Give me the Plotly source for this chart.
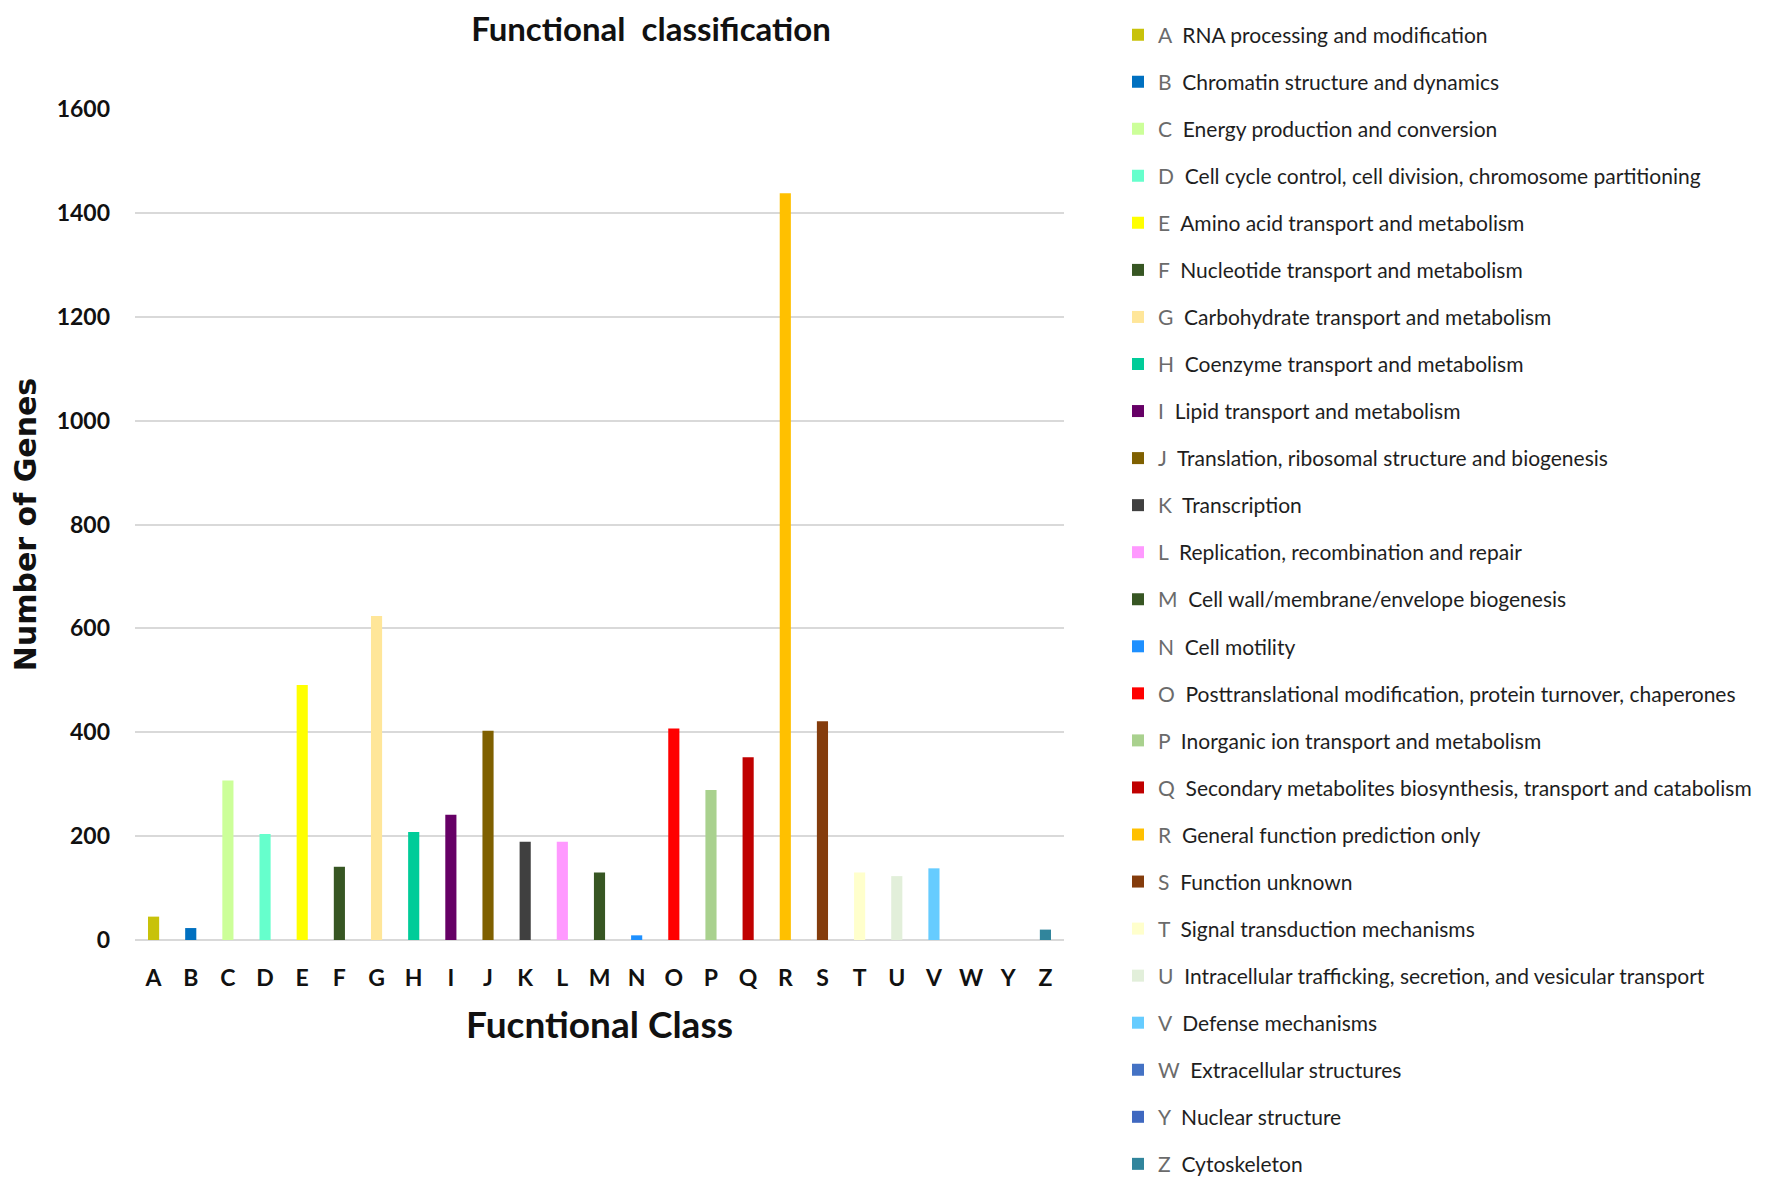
import plotly.graph_objects as go

categories = ["A", "B", "C", "D", "E", "F", "G", "H", "I", "J", "K", "L", "M",
              "N", "O", "P", "Q", "R", "S", "T", "U", "V", "W", "Y", "Z"]
values = [45, 23, 307, 204, 491, 141, 624, 208, 241, 403, 189, 189, 130,
          9, 407, 289, 352, 1438, 421, 130, 123, 138, 0, 0, 20]
descriptions = [
    "RNA processing and modification",
    "Chromatin structure and dynamics",
    "Energy production and conversion",
    "Cell cycle control, cell division, chromosome partitioning",
    "Amino acid transport and metabolism",
    "Nucleotide transport and metabolism",
    "Carbohydrate transport and metabolism",
    "Coenzyme transport and metabolism",
    "Lipid transport and metabolism",
    "Translation, ribosomal structure and biogenesis",
    "Transcription",
    "Replication, recombination and repair",
    "Cell wall/membrane/envelope biogenesis",
    "Cell motility",
    "Posttranslational modification, protein turnover, chaperones",
    "Inorganic ion transport and metabolism",
    "Secondary metabolites biosynthesis, transport and catabolism",
    "General function prediction only",
    "Function unknown",
    "Signal transduction mechanisms",
    "Intracellular trafficking, secretion, and vesicular transport",
    "Defense mechanisms",
    "Extracellular structures",
    "Nuclear structure",
    "Cytoskeleton",
]
colors = ["#C8C20A", "#0070C0", "#CCFF99", "#66FFCC", "#FFFF00", "#375623",
          "#FFE699", "#00CC99", "#660066", "#7F6000", "#404040", "#FF99FF",
          "#375623", "#1E90FF", "#FF0000", "#A9D18E", "#C00000", "#FFC000",
          "#843C0C", "#FFFFCC", "#E2EFDA", "#66CCFF", "#4472C4", "#3F68C0",
          "#31859C"]
y_ticks = [0, 200, 400, 600, 800, 1000, 1200, 1400, 1600]

fig = go.Figure()
for cat, val, desc, col in zip(categories, values, descriptions, colors):
    fig.add_trace(go.Bar(
        x=[cat], y=[val], marker=dict(color=col, line=dict(width=0)),
        name=f"<span style='color:#6b6b6b'>{cat}</span>  {desc}",
        legendgroup=cat,
    ))

# page body has an 8px margin, so the figure is drawn offset by 8px
W, H = 1757, 1176
left, right_edge, top, bottom_edge = 127, 1056, 101, 932
plot_w = right_edge - left
plot_h = bottom_edge - top

fig.update_layout(
    width=W, height=H,
    margin=dict(l=left, r=W - right_edge, t=top, b=H - bottom_edge, autoexpand=False),
    paper_bgcolor="white", plot_bgcolor="white",
    barmode="overlay", bargap=0.7,
    title=dict(text="Functional  classification", x=643 / W, xanchor="center",
               y=1 - 21 / H, yanchor="middle",
               font=dict(family="Lato", size=33, color="#111111", weight="bold")),
    font=dict(family="Lato", color="#111111"),
    legend=dict(
        x=(1110 - left) / plot_w, xanchor="left",
        y=1 + (top - 6.5) / plot_h, yanchor="top",
        traceorder="grouped", tracegroupgap=16.75,
        maxheight=H,
        font=dict(family="Lato", size=21, color="#1e1e1e"),
        bgcolor="rgba(0,0,0,0)", borderwidth=0,
    ),
    xaxis=dict(
        categoryorder="array", categoryarray=categories,
        tickfont=dict(family="Lato", size=23, color="#111111", weight="bold"),
        showgrid=False, showline=False, zeroline=False,
        ticks="", ticklabelstandoff=22,
        title=dict(text="Fucntional Class", standoff=22,
                   font=dict(family="Lato", size=37, color="#111111", weight="bold")),
    ),
    yaxis=dict(
        range=[0, 1600], tickvals=y_ticks,
        tickfont=dict(family="Lato", size=23, color="#111111", weight="bold"),
        showgrid=True, gridcolor="#D9D9D9", gridwidth=2,
        zeroline=True, zerolinecolor="#D9D9D9", zerolinewidth=2,
        showline=False, ticks="", ticklabelstandoff=24,
        title=dict(text="Number of Genes", standoff=20,
                   font=dict(family="DejaVu Sans", size=30, color="#111111", weight="bold")),
    ),
)

fig.write_html("out.html")
